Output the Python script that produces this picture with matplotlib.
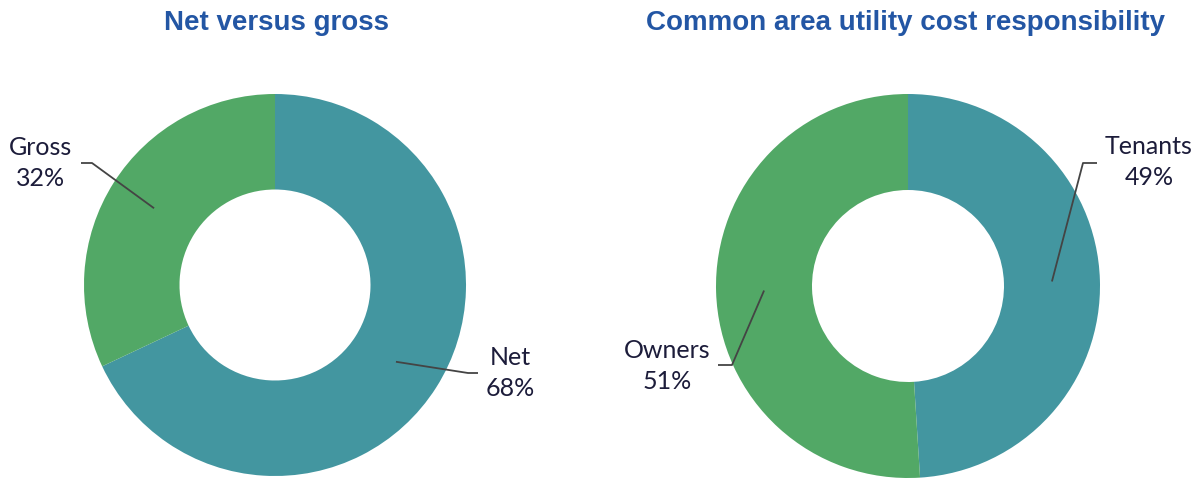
import numpy as np
import matplotlib.pyplot as plt

TEAL = '#4396A0'
GREEN = '#52A866'
TITLE_COLOR = '#2356A4'
TEXT_COLOR = '#1C1C3A'
LINE_COLOR = '#444444'

# chart data
left_title = 'Net versus gross'
left_labels = ['Net', 'Gross']
left_values = [68, 32]

right_title = 'Common area utility cost responsibility'
right_labels = ['Tenants', 'Owners']
right_values = [49, 51]

W, H = 1198, 478


def donut(ax, values, labels, center, radius, text_pos, elbows):
    wedges, _ = ax.pie(values, colors=[TEAL, GREEN], startangle=90, counterclock=False,
                       center=center, radius=radius,
                       wedgeprops=dict(width=radius * 0.5, edgecolor='none'))
    for w, lab, val, tp, (ex, ey, hx) in zip(wedges, labels, values, text_pos, elbows):
        ang = np.deg2rad((w.theta1 + w.theta2) / 2)
        sx = center[0] + 0.75 * radius * np.cos(ang)
        sy = center[1] + 0.75 * radius * np.sin(ang)
        ax.plot([sx, ex, ex + hx], [sy, ey, ey], color=LINE_COLOR, lw=1.3, solid_capstyle='butt')
        ax.text(tp[0], tp[1], '%s\n%d%%' % (lab, val), ha='center', va='center',
                fontsize=18, family='Lato', color=TEXT_COLOR, linespacing=1.45)


fig = plt.figure(figsize=(W / 100, H / 100), dpi=100)
ax = fig.add_axes([0, 0, 1, 1])
ax.set_xlim(0, W)
ax.set_ylim(0, H)
ax.set_aspect('equal')
ax.axis('off')

donut(ax, left_values, left_labels, (275, 193), 191,
      [(510, H - 373), (41, H - 163)],
      [(468, H - 373, 10), (92, H - 163, -11)])
donut(ax, right_values, right_labels, (908, 192), 192,
      [(1149, H - 162), (667, H - 366)],
      [(1083, H - 163, 14), (732, H - 365, -14)])

ax.set_xlim(0, W)
ax.set_ylim(0, H)

ax.text(277, H - 23, left_title, ha='center', va='center', fontsize=20,
        fontweight='bold', family='Liberation Sans', color=TITLE_COLOR)
ax.text(906, H - 23, right_title, ha='center', va='center', fontsize=20,
        fontweight='bold', family='Liberation Sans', color=TITLE_COLOR)

plt.savefig('out.png', dpi=100)
